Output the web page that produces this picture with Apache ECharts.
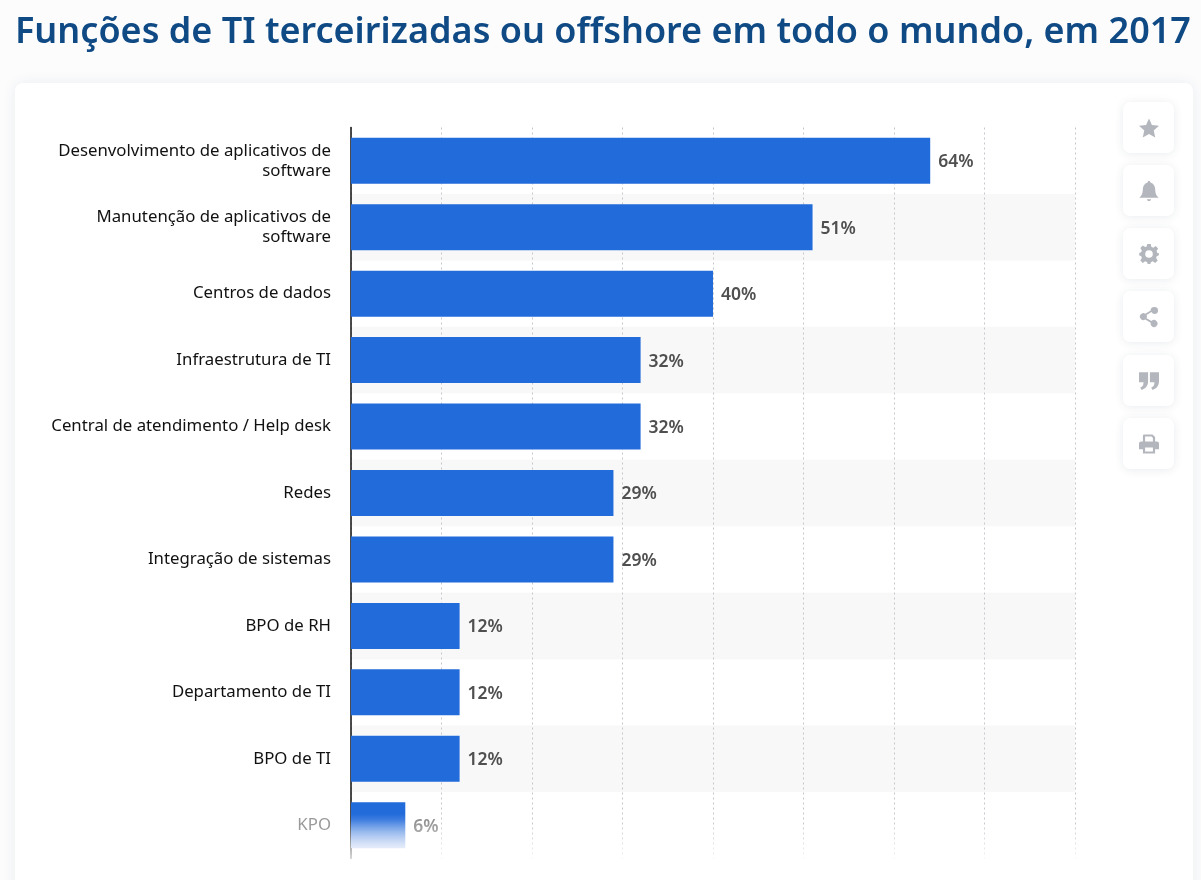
<!DOCTYPE html>
<html><head><meta charset="utf-8">
<style>html,body{margin:0;padding:0;background:#fcfcfd}#c{width:1201px;height:880px}</style>
<script src="https://cdn.jsdelivr.net/npm/echarts@6/dist/echarts.min.js"></script>
</head><body><div id="c"></div>
<script>
const titleText = 'Funções de TI terceirizadas ou offshore em todo o mundo, em 2017';
const categories = ['Desenvolvimento de aplicativos de\nsoftware','Manutenção de aplicativos de\nsoftware','Centros de dados','Infraestrutura de TI','Central de atendimento / Help desk','Redes','Integração de sistemas','BPO de RH','Departamento de TI','BPO de TI','KPO'];
const values = [64,51,40,32,32,29,29,12,12,12,6];
const BLUE = '#226bdb', GREY = '#b3b7bd';
const FONT = '"Noto Sans", sans-serif';

const icons = [
 'M12 1 L15.2 8.2 L23 9 L17.2 14.2 L18.9 22 L12 18 L5.1 22 L6.8 14.2 L1 9 L8.8 8.2 Z',
 'M12 1 C13 1 13.6 1.8 13.6 2.8 C17.4 3.8 19 7 19 11 C19 15 20.5 18 23 20 L1 20 C3.5 18 5 15 5 11 C5 7 6.6 3.8 10.4 2.8 C10.4 1.8 11 1 12 1 Z M9.5 21.5 L14.5 21.5 C14 23 13 23.6 12 23.6 C11 23.6 10 23 9.5 21.5 Z',
 'M10 1 L14 1 L14.6 4.2 L16.8 5.1 L19.5 3.3 L22.3 6.1 L20.5 8.8 L21.4 11 L23 11 L23 14 L20.9 14.6 L20 16.8 L21.8 19.5 L19 22.3 L16.3 20.5 L14.1 21.4 L13.5 23.5 L10.5 23.5 L9.9 21.4 L7.7 20.5 L5 22.3 L2.2 19.5 L4 16.8 L3.1 14.6 L1 14 L1 11 L3.1 10.4 L4 8.2 L2.2 5.5 L5 2.7 L7.7 4.5 L9.4 3.8 Z',
 'M19 1 A4 4 0 1 1 15.4 6.8 L9.8 10.2 A4 4 0 0 1 9.8 13.8 L15.4 17.2 A4 4 0 1 1 14.4 19 L8.2 15.4 A4 4 0 1 1 8.2 8.6 L14.4 5 A4 4 0 0 1 19 1 Z',
 'M1 3 L11 3 L11 13 C11 18 8 21.5 3.5 22.5 L2.5 20 C4.8 19 6 17 6 14 L1 14 Z M13 3 L23 3 L23 13 C23 18 20 21.5 15.5 22.5 L14.5 20 C16.8 19 18 17 18 14 L13 14 Z',
 'M6 1 L16 1 L19 4 L19 9 L21 9 C22.5 9 23.5 10 23.5 11.5 L23.5 18 L19 18 L19 23 L5 23 L5 18 L0.5 18 L0.5 11.5 C0.5 10 1.5 9 3 9 L5 9 L5 3 C5 2 5.5 1 6 1 Z M7.5 3.5 L7.5 9 L16.5 9 L16.5 5 L15 3.5 Z M7.5 16 L7.5 20.5 L16.5 20.5 L16.5 16 Z'
];
const btnTops = [102,165,228,291,355,418];

const graphics = [
 {type:'rect',silent:true,z:-10,shape:{x:15,y:83,width:1178,height:830,r:8},
  style:{fill:'#fff',shadowBlur:14,shadowColor:'rgba(40,60,90,0.08)'}}
];
btnTops.forEach((t)=>{
  graphics.push({type:'rect',silent:true,z:5,shape:{x:1123,y:t,width:51,height:51,r:7},
    style:{fill:'#fff',shadowBlur:10,shadowColor:'rgba(40,60,90,0.10)',shadowOffsetY:1}});
});
// soft fade of the axis and grid lines at the foot of the card
graphics.push({type:'rect',silent:true,z:50,shape:{x:345,y:820,width:740,height:42},
  style:{fill:{type:'linear',x:0,y:0,x2:0,y2:1,colorStops:[{offset:0,color:'rgba(255,255,255,0)'},{offset:1,color:'rgba(255,255,255,0.85)'}]}}});

const chart = echarts.init(document.getElementById('c'),null,{renderer:'canvas'});
chart.setOption({
  animation:false,
  backgroundColor:'transparent',
  title:{text:titleText,left:15,top:15,padding:0,textStyle:{fontFamily:FONT,fontSize:36,fontWeight:600,color:'#0f4a85'}},
  graphic:graphics,
  grid:{left:351,top:127.5,width:724,height:731,containLabel:false},
  xAxis:{type:'value',min:0,max:80,interval:10,
    axisLabel:{show:false},axisLine:{show:false},axisTick:{show:false},
    splitLine:{show:true,lineStyle:{type:[2,3],color:'#c4c8cc',width:1}}},
  yAxis:{type:'category',inverse:true,data:categories.map((c,i)=>i===categories.length-1?{value:c,textStyle:{color:'#9a9a9a'}}:(i===1?{value:c,textStyle:{padding:[15,0,0,0]}}:c)),
    axisLine:{show:true,lineStyle:{color:'#111',width:1.5}},axisTick:{show:false},
    axisLabel:{margin:20,fontFamily:FONT,fontSize:16.8,color:'#111',lineHeight:20,align:'right',padding:[6,0,0,0]},
    splitArea:{show:true,areaStyle:{color:['rgba(0,0,0,0)','#f8f8f8']}},
    splitLine:{show:false}},
  series:[{type:'bar',barWidth:46,
    data:values.map((v,i)=>i===values.length-1?{value:v,
      itemStyle:{color:{type:'linear',x:0,y:0,x2:0,y2:1,colorStops:[{offset:0,color:BLUE},{offset:0.25,color:BLUE},{offset:1,color:'#c3d5f3'}]}},
      label:{color:'#8f8f8f'}}:v),
    itemStyle:{color:BLUE,borderRadius:0},
    label:{show:true,position:'right',distance:8,offset:[0,1.5],formatter:'{c}%',fontFamily:FONT,fontSize:17.5,fontWeight:600,color:'#4f4f4f'}},
   {type:'custom',coordinateSystem:'none',silent:true,z:10,data:icons.map((_,i)=>i),
    renderItem:(p)=>{
      const i=p.dataIndex, t=btnTops[i];
      const children=[{type:'path',shape:{pathData:icons[i],x:1139,y:t+16,width:20,height:20,layout:'center'},style:{fill:GREY,fillRule:'evenodd'}}];
      if(i===2) children.push({type:'circle',shape:{cx:1149,cy:t+26,r:3.8},style:{fill:'#fff'}});
      return {type:'group',children};
    }}]
});
</script></body></html>
